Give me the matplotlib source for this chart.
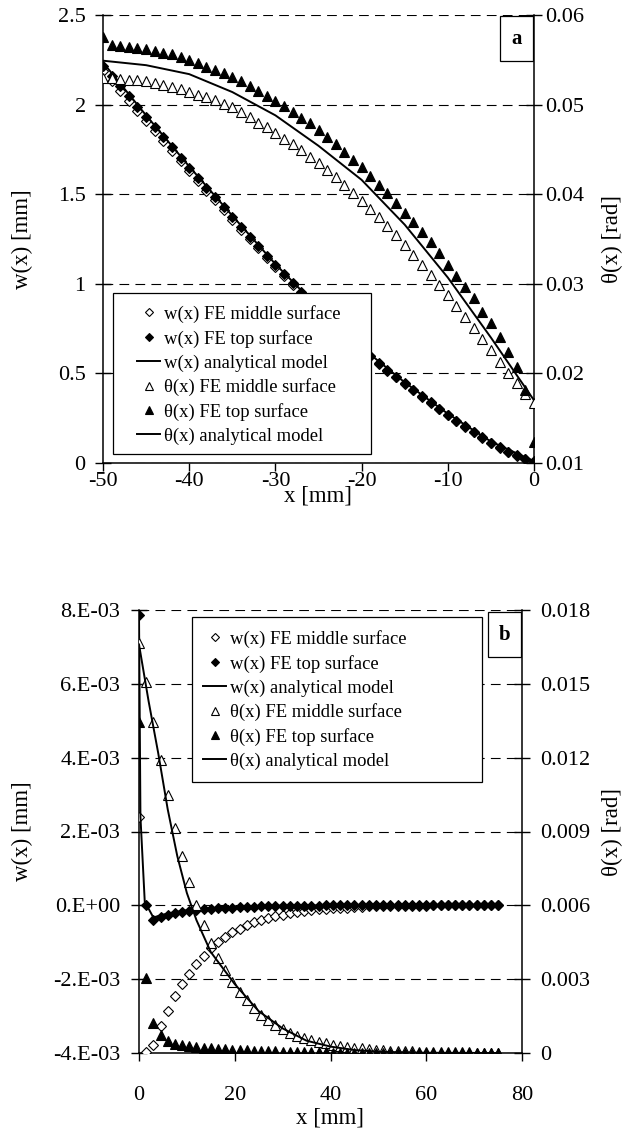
import matplotlib
matplotlib.use('Agg')
import matplotlib.pyplot as plt
from matplotlib.lines import Line2D
from matplotlib.patches import Rectangle

plt.rcParams['font.family'] = ['Liberation Serif', 'DejaVu Serif']
plt.rcParams['axes.unicode_minus'] = False
plt.rcParams['lines.scale_dashes'] = False

# ---------------- panel (a) data ----------------
xa = [-50, -49, -48, -47, -46, -45, -44, -43, -42, -41, -40, -39, -38, -37, -36, -35, -34,
      -33, -32, -31, -30, -29, -28, -27, -26, -25, -24, -23, -22, -21, -20, -19, -18, -17,
      -16, -15, -14, -13, -12, -11, -10, -9, -8, -7, -6, -5, -4, -3, -2, -1, 0]
wa_mid = [2.185, 2.13, 2.075, 2.02, 1.963, 1.907, 1.851, 1.795, 1.739, 1.683, 1.627, 1.573,
          1.519, 1.465, 1.411, 1.357, 1.303, 1.250, 1.197, 1.145, 1.094, 1.044, 0.995, 0.947,
          0.899, 0.853, 0.807, 0.763, 0.719, 0.677, 0.635, 0.595, 0.555, 0.516, 0.478, 0.441,
          0.405, 0.370, 0.336, 0.301, 0.267, 0.234, 0.202, 0.171, 0.141, 0.112, 0.085, 0.061,
          0.040, 0.022, 0.006]
wa_top = [2.217, 2.160, 2.103, 2.046, 1.989, 1.932, 1.875, 1.818, 1.761, 1.704, 1.647, 1.592,
          1.537, 1.482, 1.427, 1.372, 1.317, 1.263, 1.209, 1.156, 1.104, 1.053, 1.003, 0.954,
          0.906, 0.859, 0.813, 0.768, 0.724, 0.681, 0.639, 0.598, 0.558, 0.519, 0.481, 0.444,
          0.408, 0.373, 0.338, 0.303, 0.269, 0.236, 0.204, 0.173, 0.143, 0.114, 0.087, 0.063,
          0.042, 0.024, 0.010]
xa_model = [-50, -45, -40, -35, -30, -25, -20, -15, -10, -5, 0]
wa_model = [2.235, 1.94, 1.655, 1.38, 1.11, 0.865, 0.645, 0.45, 0.275, 0.12, 0.01]
tha_mid = [0.0530, 0.0530, 0.0529, 0.0528, 0.0527, 0.0526, 0.0524, 0.0522, 0.0520, 0.0517,
           0.0514, 0.0511, 0.0508, 0.0505, 0.0501, 0.0497, 0.0492, 0.0486, 0.0480, 0.0475,
           0.0468, 0.0462, 0.0456, 0.0449, 0.0442, 0.0435, 0.0427, 0.0419, 0.0410, 0.0401,
           0.0392, 0.0383, 0.0374, 0.0364, 0.0354, 0.0343, 0.0332, 0.0321, 0.0310, 0.0299,
           0.0287, 0.0275, 0.0263, 0.0251, 0.0238, 0.0226, 0.0213, 0.0201, 0.0189, 0.0177,
           0.0167]
tha_top = [0.0575, 0.0566, 0.0565, 0.0564, 0.0563, 0.0562, 0.0560, 0.0558, 0.0556, 0.0553,
           0.0550, 0.0546, 0.0542, 0.0539, 0.0535, 0.0531, 0.0526, 0.0521, 0.0515, 0.0510,
           0.0504, 0.0498, 0.0492, 0.0485, 0.0479, 0.0472, 0.0464, 0.0456, 0.0447, 0.0438,
           0.0430, 0.0420, 0.0410, 0.0401, 0.0390, 0.0379, 0.0369, 0.0358, 0.0347, 0.0334,
           0.0321, 0.0309, 0.0296, 0.0284, 0.0269, 0.0256, 0.0241, 0.0224, 0.0207, 0.0181,
           0.0123]
tha_model = [0.0549, 0.0544, 0.0534, 0.0514, 0.0488, 0.0454, 0.0416, 0.0366, 0.0307, 0.0240,
             0.0170]

# ---------------- panel (b) data ----------------
xb = [0, 1.5, 3, 4.5, 6, 7.5, 9, 10.5, 12, 13.5, 15, 16.5, 18, 19.5, 21, 22.5, 24, 25.5, 27,
      28.5, 30, 31.5, 33, 34.5, 36, 37.5, 39, 40.5, 42, 43.5, 45, 46.5, 48, 49.5, 51, 52.5,
      54, 55.5, 57, 58.5, 60, 61.5, 63, 64.5, 66, 67.5, 69, 70.5, 72, 73.5, 75]
wb_mid = [2.38e-3, -3.97e-3, -3.77e-3, -3.26e-3, -2.85e-3, -2.46e-3, -2.14e-3, -1.85e-3,
          -1.58e-3, -1.36e-3, -1.15e-3, -1.00e-3, -0.86e-3, -0.73e-3, -0.63e-3, -0.53e-3,
          -0.46e-3, -0.40e-3, -0.34e-3, -0.29e-3, -0.25e-3, -0.21e-3, -0.17e-3, -0.15e-3,
          -0.12e-3, -0.10e-3, -0.09e-3, -0.08e-3, -0.07e-3, -0.06e-3, -0.05e-3, -0.04e-3,
          -0.03e-3, -0.025e-3, -0.02e-3, -0.015e-3, -0.012e-3, -0.01e-3, -0.008e-3,
          -0.006e-3, -0.005e-3, -0.004e-3, -0.003e-3, -0.003e-3, -0.002e-3, -0.002e-3,
          -0.001e-3, -0.001e-3, -0.001e-3, -0.001e-3, 0.0]
wb_top = [7.86e-3, 0.0, -0.39e-3, -0.31e-3, -0.26e-3, -0.22e-3, -0.18e-3, -0.15e-3, -0.13e-3,
          -0.11e-3, -0.095e-3, -0.08e-3, -0.07e-3, -0.06e-3, -0.05e-3, -0.042e-3, -0.035e-3,
          -0.03e-3, -0.025e-3, -0.02e-3, -0.016e-3, -0.013e-3, -0.01e-3, -0.008e-3, -0.006e-3,
          -0.005e-3, -0.004e-3, -0.003e-3, -0.002e-3, -0.002e-3, -0.002e-3, -0.001e-3,
          -0.001e-3, -0.001e-3, -0.001e-3, -0.001e-3, 0.0, 0.0, 0.0, 0.0, 0.0, 0.0, 0.0, 0.0,
          0.0, 0.0, 0.0, 0.0, 0.0, 0.0, 0.0]
xb_wmodel = [0, 0.3, 1.2, 3, 4.5, 6, 9, 12, 15, 20, 25, 30, 40, 50, 75]
wb_model = [7.9e-3, 2.4e-3, 0.1e-3, -0.33e-3, -0.27e-3, -0.22e-3, -0.15e-3, -0.10e-3, -0.07e-3,
            -0.04e-3, -0.02e-3, -0.01e-3, 0.0, 0.0, 0.0]
thb_mid = [0.01666, 0.01509, 0.01344, 0.0119, 0.01048, 0.00914, 0.0080, 0.00696, 0.0060,
           0.0052, 0.00447, 0.00386, 0.00337, 0.00288, 0.00249, 0.00215, 0.00183, 0.00154,
           0.00134, 0.00114, 0.00098, 0.00083, 0.0007, 0.00061, 0.00053, 0.00046, 0.00039,
           0.00034, 0.0003, 0.00026, 0.00022, 0.00019, 0.00016, 0.00014, 0.00012, 0.0001,
           0.00009, 0.00008, 0.00007, 0.00006, 0.00005, 0.00005, 0.00004, 0.00004, 0.00003,
           0.00003, 0.00003, 0.00002, 0.00002, 0.00002, 0.00002]
thb_top = [0.01346, 0.00303, 0.00121, 0.00072, 0.00048, 0.00037, 0.00031, 0.00027, 0.00024,
           0.00021, 0.00019, 0.00017, 0.00015, 0.00013, 0.00012, 0.00011, 0.0001, 0.00009,
           0.00008, 0.00007, 0.00006, 0.00005, 0.00005, 0.00004, 0.00004, 0.00003, 0.00003,
           0.00002, 0.00002, 0.00002, 0.00002, 0.00002, 0.00002, 0.00002, 0.00001, 0.00001,
           0.00001, 0.00001, 0.00001, 0.00001, 0.00001, 0.00001, 0.00001, 0.00001, 0.00001,
           0.00001, 0.00001, 0.00001, 0.00001, 0.00001, 0.00001]
xb_thmodel = [0, 2, 4, 6, 8, 10, 12, 15, 20, 25, 30, 35, 40, 45, 50, 60, 75]
thb_model = [0.0166, 0.0143, 0.0122, 0.0099, 0.0080, 0.0065, 0.0054, 0.0041, 0.0028, 0.0017,
             0.0010, 0.0005, 0.00026, 0.00012, 0.00005, 0.00001, 0.0]

# ---------------- ticks / labels ----------------
a_xticks = [-50, -40, -30, -20, -10, 0]
a_xlabels = ['-50', '-40', '-30', '-20', '-10', '0']
a_wticks = [0, 0.5, 1, 1.5, 2, 2.5]
a_wlabels = ['0', '0.5', '1', '1.5', '2', '2.5']
a_thticks = [0.01, 0.02, 0.03, 0.04, 0.05, 0.06]
a_thlabels = ['0.01', '0.02', '0.03', '0.04', '0.05', '0.06']
b_xticks = [0, 20, 40, 60, 80]
b_xlabels = ['0', '20', '40', '60', '80']
b_wticks = [-4e-3, -2e-3, 0, 2e-3, 4e-3, 6e-3, 8e-3]
b_wlabels = ['-4.E-03', '-2.E-03', '0.E+00', '2.E-03', '4.E-03', '6.E-03', '8.E-03']
b_thticks = [0, 0.003, 0.006, 0.009, 0.012, 0.015, 0.018]
b_thlabels = ['0', '0.003', '0.006', '0.009', '0.012', '0.015', '0.018']

legend_labels = ['w(x) FE middle surface', 'w(x) FE top surface', 'w(x) analytical model',
                 'θ(x) FE middle surface', 'θ(x) FE top surface', 'θ(x) analytical model']

W, H = 638, 1137
fig = plt.figure(figsize=(W / 100, H / 100), dpi=100)

TICK_FS = 16
LABEL_FS = 16.5
LEG_FS = 13.4
TS = 6.5   # triangle size
MEW = 0.8


def px_rect(l, t, r, b):
    return [l / W, 1 - b / H, (r - l) / W, (b - t) / H]


def style_axes(ax, ax2, ypad, xpad, rpad):
    for s in ['top', 'right']:
        ax.spines[s].set_visible(False)
    for s in ['top', 'left', 'bottom']:
        ax2.spines[s].set_visible(False)
    for s in ['left', 'bottom']:
        ax.spines[s].set_linewidth(1.1)
    ax2.spines['right'].set_linewidth(1.1)
    ax.tick_params(axis='y', direction='inout', length=11, width=1.0, labelsize=TICK_FS, pad=ypad)
    ax.tick_params(axis='x', direction='out', length=5.5, width=1.0, labelsize=TICK_FS, pad=xpad)
    ax2.tick_params(axis='y', direction='inout', length=11.5, width=1.0, labelsize=TICK_FS, pad=rpad)
    ax.yaxis.grid(True, linestyle=(0, (7, 4.5)), color='black', linewidth=0.8)
    ax.set_axisbelow(True)


def draw_series(ax, ax2, ds, x, w_mid, w_top, xm, w_mod, th_mid, th_top, xtm, th_mod):
    ax.plot(x, w_mid, linestyle='none', marker='D', ms=ds, mfc='white', mec='black', mew=MEW, zorder=3)
    ax.plot(x, w_top, linestyle='none', marker='D', ms=ds, mfc='black', mec='black', mew=MEW, zorder=3.1)
    ax.plot(xm, w_mod, color='black', linewidth=1.4, zorder=3.2)
    ax2.plot(x, th_mid, linestyle='none', marker='^', ms=TS, mfc='white', mec='black', mew=MEW, zorder=3)
    ax2.plot(x, th_top, linestyle='none', marker='^', ms=TS, mfc='black', mec='black', mew=MEW, zorder=3.1)
    ax2.plot(xtm, th_mod, color='black', linewidth=1.4, zorder=3.2)


def legend_handles():
    return [
        Line2D([], [], linestyle='none', marker='D', ms=3.8, mfc='white', mec='black', mew=MEW),
        Line2D([], [], linestyle='none', marker='D', ms=3.8, mfc='black', mec='black', mew=MEW),
        Line2D([], [], color='black', linewidth=1.4),
        Line2D([], [], linestyle='none', marker='^', ms=TS * 0.8, mfc='white', mec='black', mew=MEW),
        Line2D([], [], linestyle='none', marker='^', ms=TS * 0.8, mfc='black', mec='black', mew=MEW),
        Line2D([], [], color='black', linewidth=1.4),
    ]


def add_box(ax2, l, t, r, b, zorder=6):
    rect = Rectangle((l / W, 1 - b / H), (r - l) / W, (b - t) / H, transform=fig.transFigure,
                     facecolor='white', edgecolor='black', linewidth=0.9, zorder=zorder)
    ax2.add_artist(rect)
    return rect


def add_legend(ax2, hx, ty):
    leg = ax2.legend(legend_handles(), legend_labels, loc='upper left',
                     bbox_to_anchor=(hx / W, 1 - ty / H), bbox_transform=fig.transFigure,
                     frameon=False, fontsize=LEG_FS, borderpad=0, borderaxespad=0,
                     handlelength=1.25, handletextpad=0.2, labelspacing=0.36)
    leg.set_zorder(7)


# ================= panel (a) =================
axA = fig.add_axes(px_rect(103, 15, 534, 463))
axA2 = axA.twinx()
style_axes(axA, axA2, ypad=7, xpad=1, rpad=2)
draw_series(axA, axA2, 5.4, xa, wa_mid, wa_top, xa_model, wa_model, tha_mid, tha_top, xa_model, tha_model)
axA.set_xlim(-50, 0)
axA.set_ylim(0, 2.5)
axA2.set_ylim(0.01, 0.06)
axA.set_xticks(a_xticks, a_xlabels)
axA.set_yticks(a_wticks, a_wlabels)
axA2.set_yticks(a_thticks, a_thlabels)
axA.set_xlabel('x [mm]', fontsize=LABEL_FS, va='center')
axA.xaxis.set_label_coords(0.5, (463 - 496) / 448)
axA.set_ylabel('w(x) [mm]', fontsize=LABEL_FS, va='center')
axA.yaxis.set_label_coords((22 - 103) / 431, 0.5)
axA2.set_ylabel('θ(x) [rad]', fontsize=LABEL_FS, va='center', rotation=90)
axA2.yaxis.set_label_coords((612 - 103) / 431, 0.5)
add_box(axA2, 113, 293, 371, 454)
add_legend(axA2, 137, 305)
add_box(axA2, 500, 16, 533, 61)
axA2.text(516.5 / W, 1 - 38.5 / H, 'a', transform=fig.transFigure, fontsize=15,
          fontweight='bold', ha='center', va='center', zorder=8)

# ================= panel (b) =================
axB = fig.add_axes(px_rect(139, 610, 522, 1053))
axB2 = axB.twinx()
style_axes(axB, axB2, ypad=8, xpad=18, rpad=7)
draw_series(axB, axB2, 4.6, xb, wb_mid, wb_top, xb_wmodel, wb_model, thb_mid, thb_top, xb_thmodel, thb_model)
axB.set_xlim(0, 80)
axB.set_ylim(-4e-3, 8e-3)
axB2.set_ylim(0, 0.018)
axB.set_xticks(b_xticks, b_xlabels)
axB.set_yticks(b_wticks, b_wlabels)
axB2.set_yticks(b_thticks, b_thlabels)
axB.set_xlabel('x [mm]', fontsize=LABEL_FS, va='center')
axB.xaxis.set_label_coords(0.5, (1053 - 1118) / 443)
axB.set_ylabel('w(x) [mm]', fontsize=LABEL_FS, va='center')
axB.yaxis.set_label_coords((22 - 139) / 383, 0.5)
axB2.set_ylabel('θ(x) [rad]', fontsize=LABEL_FS, va='center', rotation=90)
axB2.yaxis.set_label_coords((612 - 139) / 383, 0.5)
add_box(axB2, 192, 617, 482, 782)
add_legend(axB2, 203, 630)
add_box(axB2, 488, 612, 521, 657)
axB2.text(504.5 / W, 1 - 634.5 / H, 'b', transform=fig.transFigure, fontsize=15,
          fontweight='bold', ha='center', va='center', zorder=8)

fig.savefig('out.png', dpi=100)
